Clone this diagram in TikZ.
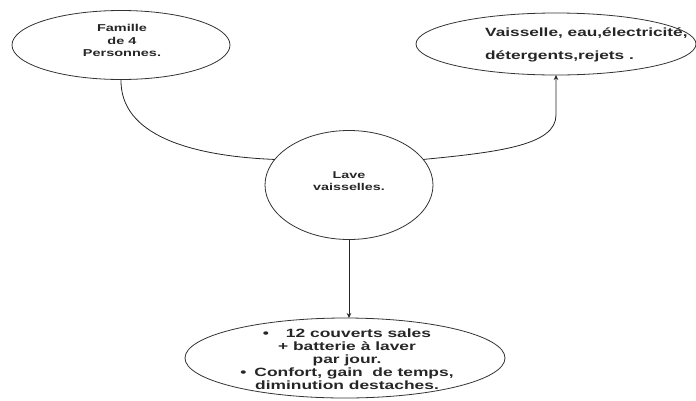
\documentclass[tikz,border=0pt]{standalone}
\usepackage{fontspec}
\setmainfont{Liberation Sans}[FakeStretch=1.45]
\usetikzlibrary{shapes.geometric,arrows.meta}
\begin{document}
\begin{tikzpicture}[x=1pt,y=-1pt,
  bubble/.style={ellipse,draw=black!80,line width=0.8pt,inner sep=0pt,outer sep=0pt},
  conn/.style={draw=black!85,line width=0.8pt},
  tip/.style={-{Stealth[length=5pt,width=4.5pt]}},
  txt/.style={text=black!85,inner sep=0pt}]
\useasboundingbox (0,0) rectangle (696,400);
\node[bubble,minimum width=218pt,minimum height=69pt] (fam) at (121,45) {};
\node[bubble,minimum width=280pt,minimum height=62pt] (res) at (556,44) {};
\node[bubble,minimum width=168pt,minimum height=109pt] (lave) at (349,185) {};
\node[bubble,minimum width=320pt,minimum height=80pt] (out) at (345,358) {};
\node[txt,align=center,font=\bfseries\fontsize{10}{12.5}\selectfont] (famt) at (122,40.5) {Famille\\de 4\\Personnes.};
\node[txt,align=left,anchor=west,font=\bfseries\fontsize{11.9}{23}\selectfont] (rest) at (485,45) {Vaisselle, eau,électricité,\\détergents,rejets .};
\node[txt,align=center,font=\bfseries\fontsize{9.9}{12}\selectfont] (lavet) at (349,181) {Lave\\vaisselles.};
\node[txt,align=center,font=\bfseries\fontsize{12}{13}\selectfont] (outt) at (347,359) {•\hspace{17pt}12 couverts sales\\+ batterie à laver\\par jour.\\•\hspace{8pt}Confort, gain\ \ de temps,\\diminution destaches.};
\coordinate (rb) at ([yshift=-40pt]res.south);
\draw[conn] (fam.south) .. controls (120,135) and (190,156) .. (lave.161);
\draw[conn,tip] (lave.19) .. controls (500,152) and (556,145) .. (rb) -- (res.south);
\draw[conn,tip] (lave.south) -- (lave.south |- out.north);
\end{tikzpicture}
\end{document}
